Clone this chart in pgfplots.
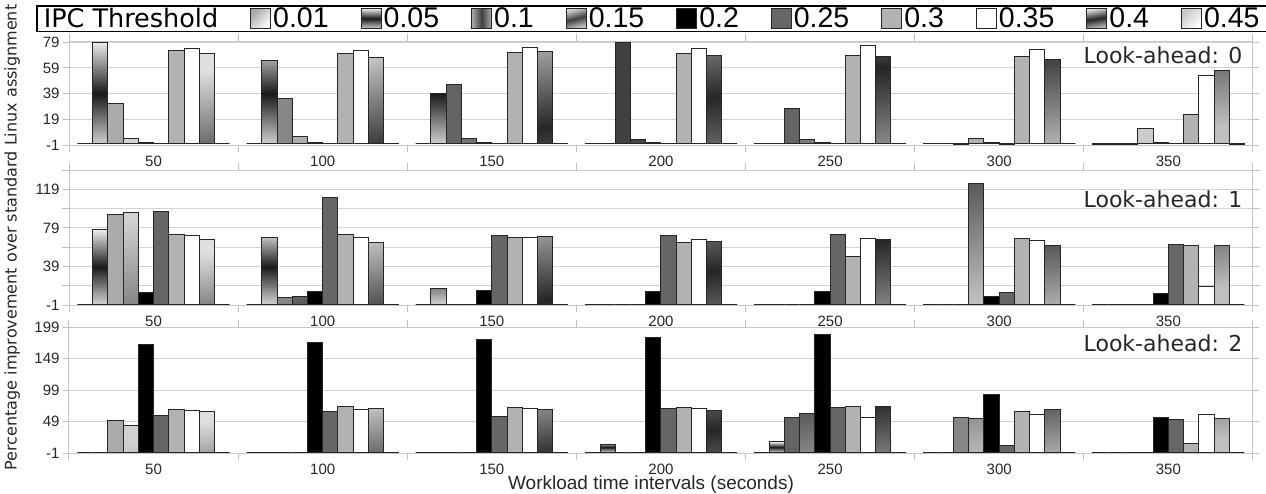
\documentclass[border=0pt]{standalone}
\usepackage{pgfplots}
\pgfplotsset{compat=1.18}
\usepackage{pgfplotstable}
\usepackage{fontspec}
\setmainfont{Liberation Sans}
\newfontfamily\dejavu{DejaVu Sans}

\pgfplotstableread{
g t1 t2 t3 t4 t5 t6 t7 t8 t9 t10
0 0 79 31.5 3.8 0.8 0 72.5 74 70 0
1 0 65 35 5.5 0.8 0 70 72.5 67.5 0
2 0 39 46 3.8 0.8 0 71 75 71.5 0
3 0 0 79 3 0.8 0 70 74 69 0
4 0 0 27.5 3 0.8 0 69 76.5 68 0
5 0 0 -0.8 4 0.8 -0.8 68 73 65.5 0
6 -0.8 -0.8 -0.8 11.5 0.8 0 23 53.5 57 -0.8
}\dataA
\pgfplotstableread{
g t1 t2 t3 t4 t5 t6 t7 t8 t9 t10
0 0 77 93 95 11.8 96 72.3 70.6 67.1 0
1 0 69.2 6.6 8.3 12.8 111 72.3 69.2 64.3 0
2 0 16.3 0 0 14.2 71.2 69.5 68.5 70.2 0
3 0 0 0 0 12.8 71.2 63.6 67.1 64.7 0
4 0 0 0 0 12.8 72.3 48.8 68.1 67.1 0
5 0 0 0 125 8.3 11.8 68.1 66 61.2 0
6 0 0 -0.8 0 10.8 61.9 60.2 17.7 60.2 0
}\dataB
\pgfplotstableread{
g t1 t2 t3 t4 t5 t6 t7 t8 t9 t10
0 0 0 50 42 172 58.5 67.6 66 64.4 0
1 0 0 0 0 174 64.4 73.5 67.6 69.8 0
2 0 0 0 0 178.6 57 72 70.3 68.2 0
3 0 12.4 0 0 183 69.2 71.4 69.2 66 0
4 0 16.7 55.8 61.7 186.7 71.4 73 55.8 73 0
5 0 0 55.8 54.2 91.8 10.8 64.4 59.6 67.6 0
6 0 0 0 0 55.8 51.5 13.5 59.6 54.2 0
}\dataC

\pgfplotsset{
  barout/.style={draw=black!85, line width=1pt},
  s1/.style={barout, bar shift=-0.405, top color=gray!70, bottom color=white, shading angle=45},
  s2/.style={barout, bar shift=-0.315, top color=gray!15, bottom color=gray!35, middle color=black!90},
  s3/.style={barout, bar shift=-0.225, left color=gray!65, right color=gray!65, middle color=black!75},
  s4/.style={barout, bar shift=-0.135, top color=gray!35, bottom color=gray!40, middle color=black!75, shading angle=15},
  s5/.style={barout, bar shift=-0.045, fill=black},
  s6/.style={barout, bar shift=0.045, fill=black!60},
  s7/.style={barout, bar shift=0.135, fill=black!30},
  s8/.style={barout, bar shift=0.225, fill=white},
  s9/.style={barout, bar shift=0.315, top color=gray!25, bottom color=gray!50, middle color=black!85, shading angle=10},
  s10/.style={barout, bar shift=0.405, top color=gray!45, bottom color=white, shading angle=45},
  common/.style={
    scale only axis, width=1184pt, anchor=south west,
    xmin=-0.5, xmax=6.5, ybar, bar width=0.09,
    xtick={0,...,6}, xticklabels={50,100,150,200,250,300,350},
    major x tick style={draw=none},
    minor xtick={-0.5,0.5,...,6.5},
    tick align=outside, major tick length=6pt, minor tick length=7pt,
    axis line style={gray!45, line width=1pt},
    every tick/.style={gray!50, line width=1pt},
    ymajorgrids, grid style={gray!35, line width=1pt},
    minor grid style={gray!35, line width=1pt},
    tick label style={font=\fontsize{15}{17}\selectfont, text=black!85},
    xticklabel style={yshift=-1pt},
    /pgf/number format/assume math mode=true,
    enlargelimits=false,
    legend image code/.code={\draw[#1] (0pt,-10pt) rectangle (20pt,10pt);},
  },
}

\begin{document}
\begin{tikzpicture}
\useasboundingbox (0,0) rectangle (1266pt,-493pt);
% Panel 1
\begin{axis}[common, at={(69pt,-145pt)}, height=104pt, ymin=-1, ymax=80,
  ytick={-1,19,39,59,79},
  legend columns=-1, legend cell align=left,
  legend style={at={(axis description cs:0,1)}, anchor=south west,
    xshift=-33pt, yshift=9pt, draw=black, line width=1.5pt,
    font=\fontsize{28.5}{30}\selectfont, inner xsep=5pt, inner ysep=1pt,
    nodes={inner xsep=2pt, inner ysep=1pt},
    /tikz/every even column/.append style={column sep=30pt},
    /tikz/column 2/.append style={column sep=10pt}}]
\addlegendimage{empty legend}
\addplot[s1] table[x=g,y=t1]{\dataA};
\addplot[s2] table[x=g,y=t2]{\dataA};
\addplot[s3] table[x=g,y=t3]{\dataA};
\addplot[s4] table[x=g,y=t4]{\dataA};
\addplot[s5] table[x=g,y=t5]{\dataA};
\addplot[s6] table[x=g,y=t6]{\dataA};
\addplot[s7] table[x=g,y=t7]{\dataA};
\addplot[s8] table[x=g,y=t8]{\dataA};
\addplot[s9] table[x=g,y=t9]{\dataA};
\addplot[s10] table[x=g,y=t10]{\dataA};
\legend{{\dejavu\fontsize{25.5}{28}\selectfont IPC Threshold},0.01,0.05,0.1,0.15,0.2,0.25,0.3,0.35,0.4,0.45}
\node[anchor=east, font=\dejavu\fontsize{22}{24}\selectfont, text=black!85] at (rel axis cs:0.994,0.86) {Look-ahead: 0};
\end{axis}
% Panel 2
\begin{axis}[common, at={(69pt,-305pt)}, height=135pt, ymin=-1, ymax=139,
  ytick={-1,39,79,119}, minor ytick={19,59,99,139}, yminorgrids,
  ylabel={Percentage improvement over standard Linux assignment},
  ylabel style={at={(axis description cs:-0.048,0.5)}, anchor=center,
    font=\dejavu\fontsize{16}{18}\selectfont, text=black!85}]
\addplot[s1] table[x=g,y=t1]{\dataB};
\addplot[s2] table[x=g,y=t2]{\dataB};
\addplot[s3] table[x=g,y=t3]{\dataB};
\addplot[s4] table[x=g,y=t4]{\dataB};
\addplot[s5] table[x=g,y=t5]{\dataB};
\addplot[s6] table[x=g,y=t6]{\dataB};
\addplot[s7] table[x=g,y=t7]{\dataB};
\addplot[s8] table[x=g,y=t8]{\dataB};
\addplot[s9] table[x=g,y=t9]{\dataB};
\addplot[s10] table[x=g,y=t10]{\dataB};
\node[anchor=east, font=\dejavu\fontsize{22}{24}\selectfont, text=black!85] at (rel axis cs:0.994,0.78) {Look-ahead: 1};
\end{axis}
% Panel 3
\begin{axis}[common, at={(69pt,-453pt)}, height=126pt, ymin=-1, ymax=199,
  ytick={-1,49,99,149,199},
  xlabel={Workload time intervals (seconds)},
  xlabel style={at={(axis description cs:0.4916,0)}, anchor=center, yshift=-32pt,
    font=\fontsize{19}{21}\selectfont, text=black!85}]
\addplot[s1] table[x=g,y=t1]{\dataC};
\addplot[s2] table[x=g,y=t2]{\dataC};
\addplot[s3] table[x=g,y=t3]{\dataC};
\addplot[s4] table[x=g,y=t4]{\dataC};
\addplot[s5] table[x=g,y=t5]{\dataC};
\addplot[s6] table[x=g,y=t6]{\dataC};
\addplot[s7] table[x=g,y=t7]{\dataC};
\addplot[s8] table[x=g,y=t8]{\dataC};
\addplot[s9] table[x=g,y=t9]{\dataC};
\addplot[s10] table[x=g,y=t10]{\dataC};
\node[anchor=east, font=\dejavu\fontsize{22}{24}\selectfont, text=black!85] at (rel axis cs:0.994,0.87) {Look-ahead: 2};
\end{axis}
\end{tikzpicture}
\end{document}
